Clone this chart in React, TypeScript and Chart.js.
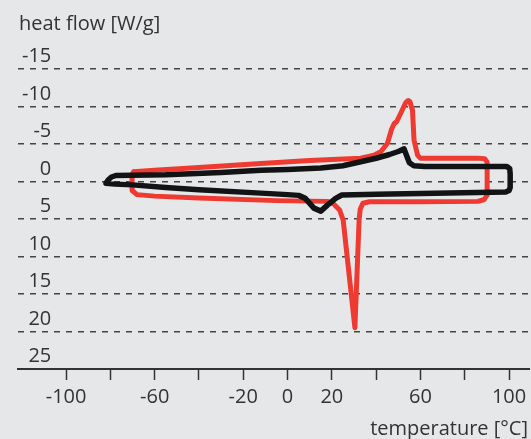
import React, { useEffect, useRef } from 'react';
import { Chart, registerables } from 'chart.js';

Chart.register(...registerables);

// ---- data ----
const yTicks = [-15, -10, -5, 0, 5, 10, 15, 20, 25];
const xTicks = [-100, -80, -60, -40, -20, 0, 20, 40, 60, 80, 100];
const xLabels = [-100, -60, -20, 0, 20, 60, 100];

// red loop (heating / cooling trace)
const redTemp = [-69.5, -60, -40, -12, 10, 33, 36.1, 39, 42.1, 45.1, 47, 48.1, 49.3, 51.1, 53.3, 54.5, 55.3, 56.4, 57.1, 58.7, 60, 86, 89, 90.1, 90.1, 88.8, 86, 60, 37, 34, 32.8, 32.3, 30.4, 25.1, 23.5, 20.8, 18, -5, -40, -60, -68, -70.2, -70.2, -69.5];
const redHeat = [-1.3, -1.5, -1.87, -2.4, -2.8, -3.1, -3.3, -3.5, -3.97, -5.1, -7.0, -7.7, -8.0, -9.1, -10.5, -10.8, -10.6, -9.5, -5.5, -3.5, -3.1, -3.1, -3.05, -2.6, 1.8, 2.4, 2.65, 2.7, 2.7, 2.9, 3.7, 5.13, 19.5, 5.13, 3.8, 3.0, 2.65, 2.55, 2.2, 1.95, 1.75, 1.2, -0.9, -1.3];

// black loop
const blackTemp = [-77.5, -55, -30, -12, 0, 15, 25, 34, 40, 46, 50, 52.6, 53.8, 55, 57, 62, 80, 99, 100.3, 100.5, 100.5, 100, 98.5, 60, 40, 24.5, 21.7, 18, 15, 11.9, 8, 5, 0, -12, -40, -55, -70, -78, -82, -81, -79.5, -77.5];
const blackHeat = [-0.8, -0.9, -1.2, -1.5, -1.6, -1.8, -2.1, -2.7, -3.1, -3.6, -4.0, -4.35, -3.4, -2.5, -2.1, -2.0, -2.0, -2.0, -1.7, -1.0, 0.8, 1.2, 1.4, 1.6, 1.7, 1.8, 2.25, 3.15, 3.95, 3.55, 2.25, 1.85, 1.75, 1.55, 1.1, 0.8, 0.45, 0.35, 0.24, -0.2, -0.6, -0.8];

const FONT = '"Open Sans", "DejaVu Sans", sans-serif';
const TEXT = '#333333';

const titlesPlugin = {
  id: 'titles',
  afterDraw(chart: any) {
    const ctx = chart.ctx;
    ctx.save();
    ctx.fillStyle = TEXT;
    ctx.font = `20px ${FONT}`;
    ctx.textBaseline = 'alphabetic';
    ctx.textAlign = 'left';
    ctx.fillText('heat flow [W/g]', 19, 29.5);
    ctx.textAlign = 'right';
    ctx.fillText('temperature [°C]', chart.chartArea.right - 1, 435);
    ctx.restore();
  },
};

export default function App() {
  const ref = useRef<HTMLCanvasElement>(null);

  useEffect(() => {
    if (!ref.current) return;
    const black = blackTemp.map((t, i) => ({ x: t, y: blackHeat[i] }));
    const red = redTemp.map((t, i) => ({ x: t, y: redHeat[i] }));
    const lineStyle = {
      showLine: true,
      pointRadius: 0,
      pointHoverRadius: 0,
      fill: false,
      tension: 0,
      borderJoinStyle: 'round' as const,
      borderCapStyle: 'round' as const,
    };
    const chart = new Chart(ref.current, {
      type: 'scatter',
      data: {
        datasets: [
          { label: 'black', data: black, borderColor: '#111315', borderWidth: 5.5, ...lineStyle },
          { label: 'red', data: red, borderColor: '#ee3a31', borderWidth: 5, ...lineStyle },
        ],
      },
      options: {
        responsive: false,
        animation: false,
        layout: { padding: { left: 18, right: 2, top: 69, bottom: 0 } },
        plugins: { legend: { display: false }, tooltip: { enabled: false } },
        scales: {
          x: {
            type: 'linear',
            min: -121.7,
            max: 109,
            afterBuildTicks: (s: any) => {
              s.ticks = xTicks.map((v) => ({ value: v }));
            },
            afterFit: (s: any) => {
              s.height = 70;
              s.paddingLeft = 0;
              s.paddingRight = 0;
            },
            grid: {
              drawOnChartArea: false,
              drawTicks: true,
              tickLength: 11,
              tickWidth: 1.5,
              tickColor: '#333',
              color: '#333',
            },
            border: { display: true, color: '#333', width: 2 },
            ticks: {
              autoSkip: false,
              maxRotation: 0,
              padding: 5,
              color: TEXT,
              font: { family: FONT, size: 20 },
              callback: (v: any) => (xLabels.includes(Number(v)) ? String(v) : ''),
            },
          },
          y: {
            type: 'linear',
            reverse: true,
            min: -15,
            max: 25,
            afterBuildTicks: (s: any) => {
              s.ticks = yTicks.map((v) => ({ value: v }));
            },
            afterFit: (s: any) => {
              s.width = 0;
              s.paddingTop = 0;
              s.paddingBottom = 0;
            },
            grid: {
              drawTicks: false,
              lineWidth: 1.5,
              color: (c: any) => (c.tick && c.tick.value === 25 ? 'rgba(0,0,0,0)' : '#444'),
            },
            border: { display: false, dash: [6, 6] },
            ticks: {
              mirror: true,
              crossAlign: 'far',
              padding: 4,
              labelOffset: -12.5,
              color: TEXT,
              font: { family: FONT, size: 20 },
              callback: (v: any) => String(v),
            },
          },
        },
      },
      plugins: [titlesPlugin],
    });
    return () => chart.destroy();
  }, []);

  return (
    <div style={{ position: 'fixed', left: 0, top: 0, width: 531, height: 439, background: '#e6e7e9' }}>
      <canvas ref={ref} width={531} height={439} style={{ display: 'block' }} />
    </div>
  );
}
